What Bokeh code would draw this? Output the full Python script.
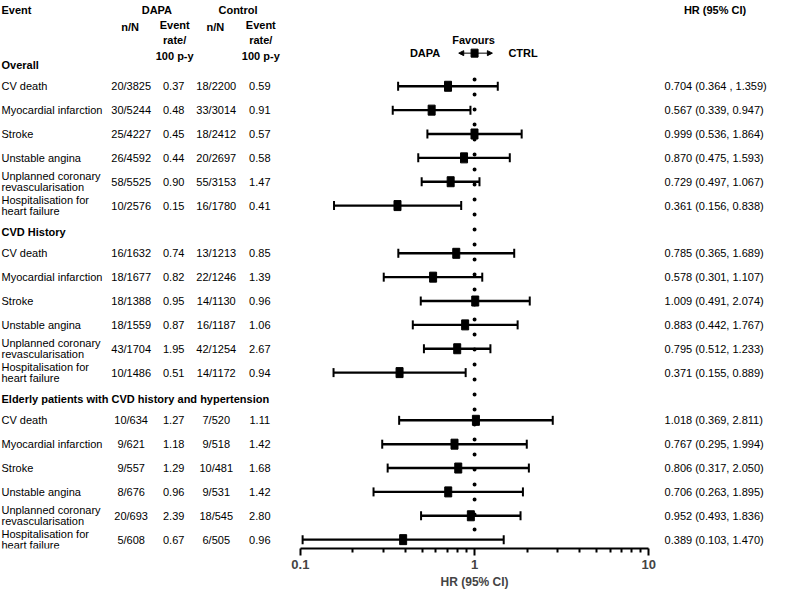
import numpy as np
from bokeh.plotting import figure
from bokeh.models import Range1d, FixedTicker, ColumnDataSource, Arrow, NormalHead, Title
from bokeh.core.properties import value
from bokeh.embed import file_html
from bokeh.resources import INLINE

# ---------------- data ----------------
groups = ["Overall", "CVD History", "Elderly patients with CVD history and hypertension"]
events = ["CV death", "Myocardial infarction", "Stroke", "Unstable angina",
          "Unplanned coronary\nrevascularisation", "Hospitalisation for\nheart failure"]

dapa_nN = ["20/3825", "30/5244", "25/4227", "26/4592", "58/5525", "10/2576",
           "16/1632", "18/1677", "18/1388", "18/1559", "43/1704", "10/1486",
           "10/634", "9/621", "9/557", "8/676", "20/693", "5/608"]
dapa_rate = [0.37, 0.48, 0.45, 0.44, 0.90, 0.15,
             0.74, 0.82, 0.95, 0.87, 1.95, 0.51,
             1.27, 1.18, 1.29, 0.96, 2.39, 0.67]
ctrl_nN = ["18/2200", "33/3014", "18/2412", "20/2697", "55/3153", "16/1780",
           "13/1213", "22/1246", "14/1130", "16/1187", "42/1254", "14/1172",
           "7/520", "9/518", "10/481", "9/531", "18/545", "6/505"]
ctrl_rate = [0.59, 0.91, 0.57, 0.58, 1.47, 0.41,
             0.85, 1.39, 0.96, 1.06, 2.67, 0.94,
             1.11, 1.42, 1.68, 1.42, 2.80, 0.96]
hr = [0.704, 0.567, 0.999, 0.870, 0.729, 0.361,
      0.785, 0.578, 1.009, 0.883, 0.795, 0.371,
      1.018, 0.767, 0.806, 0.706, 0.952, 0.389]
hr_lo = [0.364, 0.339, 0.536, 0.475, 0.497, 0.156,
         0.365, 0.301, 0.491, 0.442, 0.512, 0.155,
         0.369, 0.295, 0.317, 0.263, 0.493, 0.103]
hr_hi = [1.359, 0.947, 1.864, 1.593, 1.067, 0.838,
         1.689, 1.107, 2.074, 1.767, 1.233, 0.889,
         2.811, 1.994, 2.050, 1.895, 1.836, 1.470]
hr_labels = ["0.704 (0.364 , 1.359)"] + [
    f"{h:.3f} ({l:.3f}, {u:.3f})" for h, l, u in zip(hr[1:], hr_lo[1:], hr_hi[1:])]

x_ticks = [0.1, 1, 10]
x_minor = [0.2, 0.3, 0.4, 0.5, 0.6, 0.7, 0.8, 0.9, 2, 3, 4, 5, 6, 7, 8, 9]

# ---------------- layout helpers (layout units = reference pixels) ----------------
REF_W, REF_AXIS = 777.0, 562.0   # layout extent covered by the frame
FW, FH = 769, 548                # actual frame size
PX_DEC = 176.0                   # layout px per decade
X_ONE = 479.0                    # layout x of HR = 1


def px2x(px):
    return 10 ** ((px - X_ONE) / PX_DEC)


STEP = 24.47
Y0 = 63.5
row_y, head_y = [], []
for g in range(len(groups)):
    head_y.append(Y0 + 7 * g * STEP + 2.5)
    for r in range(len(events)):
        row_y.append(Y0 + (7 * g + r + 1) * STEP)

FONT = value("Liberation Sans")

p = figure(frame_width=FW, frame_height=FH, min_border=0,
           x_axis_type="log", y_axis_location=None,
           x_range=Range1d(px2x(0), px2x(REF_W)),
           y_range=Range1d(REF_AXIS, 0),
           toolbar_location=None, output_backend="svg",
           outline_line_color=None, background_fill_color="white",
           border_fill_color="white")
p.xgrid.visible = False
p.ygrid.visible = False


def txt(x, y, t, align="left", bold=False, size="11px", lh=1.2):
    src = ColumnDataSource(dict(x=x, y=y, t=t))
    p.text(x="x", y="y", text="t", source=src, text_align=align,
           text_baseline="middle", text_font=FONT, text_font_size=size,
           text_font_style="bold" if bold else "normal",
           text_line_height=lh, text_color="black")


# headers
TOP = 10
txt([px2x(1)], [TOP], ["Event"], bold=True)
txt([px2x(158), px2x(240)], [TOP, TOP], ["DAPA", "Control"], align="center", bold=True)
txt([px2x(131), px2x(217)], [27, 27], ["n/N", "n/N"], align="center", bold=True)
txt([px2x(176), px2x(263)], [41, 41], ["Event\nrate/\n100 p-y"] * 2,
    align="center", bold=True, lh=1.27)
txt([px2x(722)], [TOP], ["HR (95% CI)"], align="center", bold=True)
txt([px2x(478)], [40], ["Favours"], align="center", bold=True)
txt([px2x(429), px2x(528)], [54, 54], ["DAPA", "CTRL"], align="center", bold=True)

# favours arrow with square
p.add_layout(Arrow(x_start=px2x(463), x_end=px2x(497), y_start=54, y_end=54,
                   line_width=1, line_color="black",
                   start=NormalHead(size=5, fill_color="black", line_color="black"),
                   end=NormalHead(size=5, fill_color="black", line_color="black")))
p.rect(x=[1], y=[54], width=7, height=8, width_units="screen", height_units="screen",
       fill_color="black", line_color="black")

# group headers
txt([px2x(1)] * 3, head_y, groups, bold=True)

# row texts
n = len(row_y)
txt([px2x(1)] * n, row_y, events * 3, lh=0.88)
txt([px2x(132)] * n, row_y, dapa_nN, align="center")
txt([px2x(175)] * n, row_y, [f"{v:.2f}" for v in dapa_rate], align="center")
txt([px2x(218)] * n, row_y, ctrl_nN, align="center")
txt([px2x(262)] * n, row_y, [f"{v:.2f}" for v in ctrl_rate], align="center")
txt([px2x(671)] * n, row_y, hr_labels)

# reference dotted line at HR = 1
p.segment(x0=[1], y0=[row_y[0] - 7], x1=[1], y1=[row_y[-1] + 4],
          line_color="black", line_width=4, line_cap="round", line_dash="0 15")

# CIs
src = ColumnDataSource(dict(hr=hr, lo=hr_lo, hi=hr_hi, y=row_y))
p.segment(x0="lo", y0="y", x1="hi", y1="y", source=src, line_color="black", line_width=2.4)
p.scatter(x="lo", y="y", source=src, marker="dash", size=9, angle=np.pi / 2,
          line_color="black", line_width=2)
p.scatter(x="hi", y="y", source=src, marker="dash", size=9, angle=np.pi / 2,
          line_color="black", line_width=2)
p.rect(x="hr", y="y", source=src, width=7, height=10, width_units="screen",
       height_units="screen", fill_color="black", line_color="black")

# axis
ax = p.xaxis[0]
ax.ticker = FixedTicker(ticks=x_ticks, minor_ticks=x_minor)
ax.bounds = (0.1, 10)
ax.major_label_overrides = {0.1: "0.1", 1: "1", 10: "10"}
ax.axis_line_width = 2
ax.major_tick_line_width = 2
ax.minor_tick_line_width = 2
ax.major_tick_in = 0
ax.minor_tick_in = 0
ax.major_tick_out = 7
ax.minor_tick_out = 4
ax.major_label_standoff = 4
ax.major_label_text_font = "Liberation Sans"
ax.major_label_text_font_style = "bold"
ax.major_label_text_font_size = "13px"

# axis title centred under the 0.1 - 10 axis
scale = FW / REF_W
p.add_layout(Title(text="HR (95% CI)", align="left", offset=X_ONE * scale - 34,
                   standoff=3, text_font="Liberation Sans", text_font_style="bold",
                   text_font_size="12px"), "below")

open("out.html", "w").write(file_html(p, INLINE))
